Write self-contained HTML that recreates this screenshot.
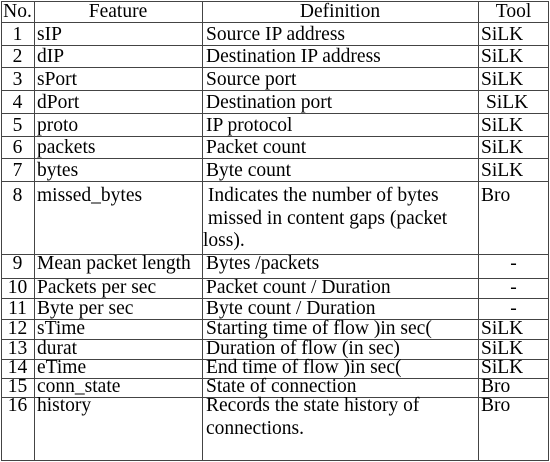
<!DOCTYPE html>
<html><head><style>
body{margin:0;background:#fff;width:550px;height:462px;overflow:hidden;position:relative;font-family:"Liberation Serif",serif;font-size:19.5px;color:#000}
.h{position:absolute;left:1px;width:548px;height:1.3px;background:#444}
.v{position:absolute;top:1px;height:460px;width:1.3px;background:#444}
.t{position:absolute;line-height:20px;white-space:nowrap}
.c{text-align:center}
</style></head><body>
<div class="v" style="left:1px"></div><div class="v" style="left:34px"></div><div class="v" style="left:202px"></div><div class="v" style="left:478px"></div><div class="v" style="left:548px"></div>
<div id="lines"></div>
<script>
var ys=[1,22,45,67,90,113,136,158,181,254,278,298,319,339,359,378,397,460];
var bl=[19,42,64,87,110,133,155,178,203,271,295,316,336,356,375,394,413];
var rows=[["No.","Feature","Definition","Tool",1],
["1","sIP","Source IP address","SiLK"],["2","dIP","Destination IP address","SiLK"],["3","sPort","Source port","SiLK"],["4","dPort","Destination port","SiLK",2],["5","proto","IP protocol","SiLK"],["6","packets","Packet count","SiLK"],["7","bytes","Byte count","SiLK"],
["8","missed_bytes","&nbsp;Indicates the number of bytes<br>&nbsp;missed in content gaps (packet<br>loss).","Bro"],
["9","Mean packet length","Bytes /packets","-",3],["10","Packets per sec","Packet count / Duration","-",3],["11","Byte per sec","Byte count / Duration","-",3],
["12","sTime","Starting time of flow )in sec(","SiLK"],["13","durat","Duration of flow (in sec)","SiLK"],["14","eTime","End time of flow )in sec(","SiLK"],["15","conn_state","State of connection","Bro"],["16","history","Records the state history of<br>connections.","Bro"]];
var h="";
ys.forEach(function(y){h+='<div class="h" style="top:'+y+'px"></div>';});
rows.forEach(function(r,i){
 var y=bl[i]-16.6;var lh=(i==8||i==16)?'line-height:22.5px;':'';
 h+='<div class="t c" style="left:1px;width:33px;top:'+y+'px">'+r[0]+'</div>';
 if(r[4]==1){
  h+='<div class="t c" style="left:34px;width:168px;top:'+y+'px">'+r[1]+'</div>';
  h+='<div class="t c" style="left:202px;width:276px;top:'+y+'px">'+r[2]+'</div>';
  h+='<div class="t c" style="left:478px;width:71px;top:'+y+'px">'+r[3]+'</div>';
 }else{
  var y2=(lh?y-1.25:y);
  h+='<div class="t" style="left:37px;top:'+y+'px">'+r[1]+'</div>';
  h+='<div class="t" style="left:'+(i==8?203:206)+'px;top:'+y2+'px;'+lh+'">'+r[2]+'</div>';
  if(r[4]==3) h+='<div class="t c" style="left:478px;width:71px;top:'+y+'px">'+r[3]+'</div>';
  else h+='<div class="t" style="left:'+(r[4]==2?486:481)+'px;top:'+y+'px">'+r[3]+'</div>';
 }
});
document.getElementById("lines").innerHTML=h;
</script>
</body></html>
